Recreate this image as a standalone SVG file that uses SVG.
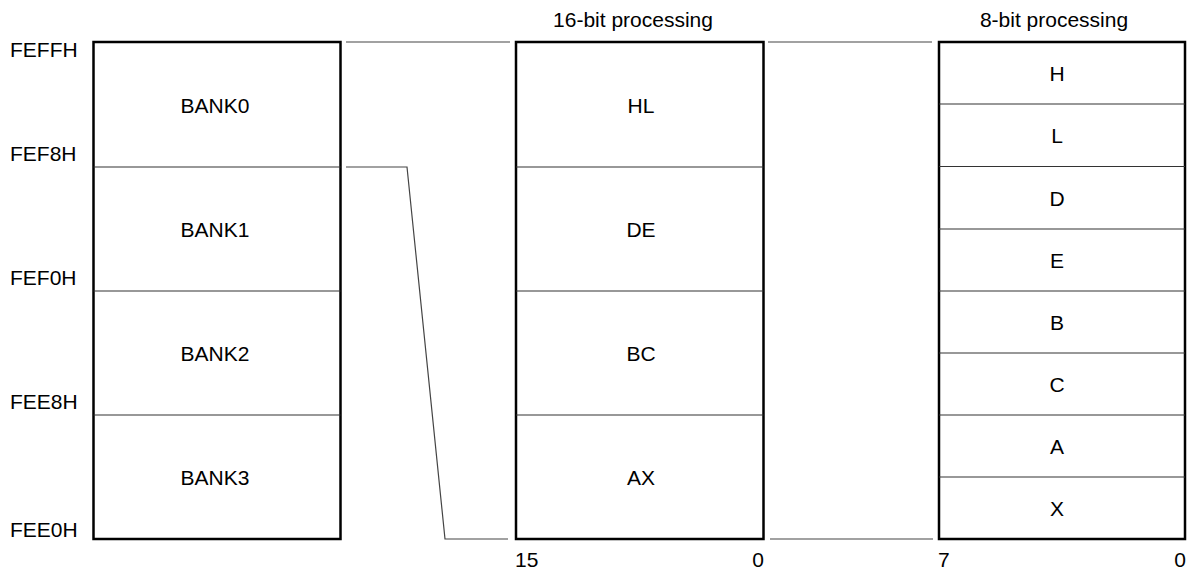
<svg xmlns="http://www.w3.org/2000/svg" width="1197" height="574" viewBox="0 0 1197 574">
<style>
text{font-family:"Liberation Sans",Arial,sans-serif;font-size:21px;fill:#000}
.box{fill:#fff;stroke:#000;stroke-width:2.5}
.div{stroke:#333;stroke-width:1.2;fill:none}
.con{stroke:#444;stroke-width:1.2;fill:none}
.c{text-anchor:middle}
.e{text-anchor:end}
</style>
<rect width="1197" height="574" fill="#fff"/>
<g id="addr-labels">
<text x="10" y="57">FEFFH</text>
<text x="10" y="161">FEF8H</text>
<text x="10" y="285">FEF0H</text>
<text x="10" y="409">FEE8H</text>
<text x="10" y="537">FEE0H</text>
</g>
<g id="banks">
<rect class="box" x="93.5" y="42" width="247" height="497"/>
<line class="div" x1="93.5" y1="167" x2="340.5" y2="167"/>
<line class="div" x1="93.5" y1="291" x2="340.5" y2="291"/>
<line class="div" x1="93.5" y1="415" x2="340.5" y2="415"/>
<text class="c" x="215" y="113">BANK0</text>
<text class="c" x="215" y="237">BANK1</text>
<text class="c" x="215" y="361">BANK2</text>
<text class="c" x="215" y="485">BANK3</text>
</g>
<g id="reg16">
<text class="c" x="633" y="27">16-bit processing</text>
<rect class="box" x="516" y="42" width="247.5" height="497"/>
<line class="div" x1="516" y1="167" x2="763.5" y2="167"/>
<line class="div" x1="516" y1="291" x2="763.5" y2="291"/>
<line class="div" x1="516" y1="415" x2="763.5" y2="415"/>
<text class="c" x="641" y="113">HL</text>
<text class="c" x="641" y="237">DE</text>
<text class="c" x="641" y="361">BC</text>
<text class="c" x="641" y="485">AX</text>
<text x="515" y="567">15</text>
<text class="e" x="764" y="567">0</text>
</g>
<g id="reg8">
<text class="c" x="1054" y="27">8-bit processing</text>
<rect class="box" x="939" y="42" width="246" height="497"/>
<line class="div" x1="939" y1="104" x2="1185" y2="104"/>
<line class="div" x1="939" y1="166.5" x2="1185" y2="166.5"/>
<line class="div" x1="939" y1="229" x2="1185" y2="229"/>
<line class="div" x1="939" y1="291" x2="1185" y2="291"/>
<line class="div" x1="939" y1="353" x2="1185" y2="353"/>
<line class="div" x1="939" y1="415" x2="1185" y2="415"/>
<line class="div" x1="939" y1="477" x2="1185" y2="477"/>
<text class="c" x="1057" y="81">H</text>
<text class="c" x="1057" y="143">L</text>
<text class="c" x="1057" y="206">D</text>
<text class="c" x="1057" y="268">E</text>
<text class="c" x="1057" y="330">B</text>
<text class="c" x="1057" y="392">C</text>
<text class="c" x="1057" y="454">A</text>
<text class="c" x="1057" y="516">X</text>
<text x="938" y="567">7</text>
<text class="e" x="1186" y="567">0</text>
</g>
<g id="connectors">
<line class="con" x1="346" y1="42" x2="510" y2="42"/>
<polyline class="con" points="346,167 407,167 445,539 508,539"/>
<line class="con" x1="768" y1="42" x2="932" y2="42"/>
<line class="con" x1="770" y1="539" x2="933" y2="539"/>
</g>
</svg>
